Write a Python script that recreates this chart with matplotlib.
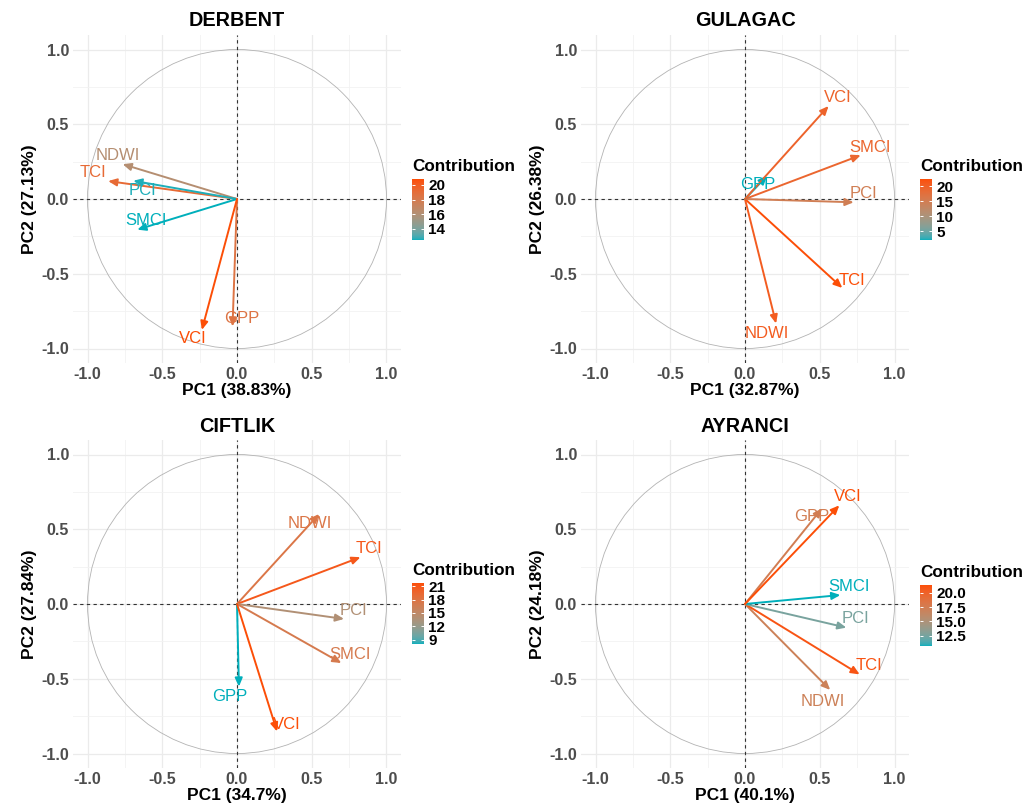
import numpy as np
import matplotlib
matplotlib.use("Agg")
import matplotlib.pyplot as plt
import matplotlib.colors as mcolors
from matplotlib.patches import Circle
from matplotlib.cm import ScalarMappable

plt.rcParams['font.family'] = ['Liberation Sans', 'DejaVu Sans']
plt.rcParams['axes.unicode_minus'] = False

# values (variable coordinates on PC1 / PC2)
stations = ["DERBENT", "GULAGAC", "CIFTLIK", "AYRANCI"]
variables = ["NDWI", "TCI", "PCI", "SMCI", "GPP", "VCI"]
pc1_pct = ["38.83", "32.87", "34.7", "40.1"]
pc2_pct = ["27.13", "26.38", "27.84", "24.18"]

derbent_pc1 = [-0.765, -0.862, -0.694, -0.667, -0.030, -0.235]
derbent_pc2 = [0.233, 0.120, 0.122, -0.205, -0.853, -0.876]
derbent_contrib = [16.2, 19.2, 12.6, 12.5, 18.5, 20.8]

gulagac_pc1 = [0.208, 0.651, 0.727, 0.774, 0.148, 0.559]
gulagac_pc2 = [-0.833, -0.595, -0.022, 0.293, 0.155, 0.622]
gulagac_contrib = [20.7, 22.5, 14.9, 19.3, 2.1, 19.7]

ciftlik_pc1 = [0.550, 0.826, 0.716, 0.698, 0.013, 0.268]
ciftlik_pc2 = [0.602, 0.313, -0.100, -0.395, -0.553, -0.853]
ciftlik_contrib = [17.7, 20.8, 13.9, 17.1, 8.05, 21.7]

ayranci_pc1 = [0.570, 0.767, 0.678, 0.638, 0.515, 0.631]
ayranci_pc2 = [-0.575, -0.471, -0.158, 0.060, 0.640, 0.660]
ayranci_contrib = [17.1, 21.0, 12.6, 10.7, 17.5, 21.4]

legend_ticks = [[14, 16, 18, 20], [5, 10, 15, 20], [9, 12, 15, 18, 21], [12.5, 15, 17.5, 20]]
legend_fmt = ["%d", "%d", "%d", "%.1f"]

pc1_all = [derbent_pc1, gulagac_pc1, ciftlik_pc1, ayranci_pc1]
pc2_all = [derbent_pc2, gulagac_pc2, ciftlik_pc2, ayranci_pc2]
contrib_all = [derbent_contrib, gulagac_contrib, ciftlik_contrib, ayranci_contrib]

# label nudges (data units), layout only
nudges = [
    [(-0.03, 0.06), (-0.10, 0.055), (0.06, -0.065), (0.06, 0.06), (0.065, 0.055), (-0.06, -0.06)],
    [(-0.06, -0.065), (0.065, 0.05), (0.065, 0.06), (0.06, 0.05), (-0.06, -0.06), (0.06, 0.056)],
    [(-0.06, -0.065), (0.06, 0.06), (0.065, 0.055), (0.06, 0.055), (-0.06, -0.068), (0.063, 0.05)],
    [(-0.05, -0.08), (0.06, 0.06), (0.06, 0.06), (0.06, 0.057), (-0.067, -0.056), (0.056, 0.06)],
]


# ggplot-like gradient (interpolated in Lab) from teal to orange
M = np.array([[0.4124, 0.3576, 0.1805], [0.2126, 0.7152, 0.0722], [0.0193, 0.1192, 0.9505]])
WHITE = np.array([0.95047, 1.0, 1.08883])


def to_lab(col):
    rgb = np.array(mcolors.to_rgb(col))
    lin = np.where(rgb <= 0.04045, rgb / 12.92, ((rgb + 0.055) / 1.055) ** 2.4)
    xyz = M @ lin / WHITE
    f = np.where(xyz > 0.008856, np.cbrt(xyz), 7.787 * xyz + 16 / 116)
    return np.array([116 * f[1] - 16, 500 * (f[0] - f[1]), 200 * (f[1] - f[2])])


def from_lab(lab):
    fy = (lab[0] + 16) / 116
    f = np.array([fy + lab[1] / 500, fy, fy - lab[2] / 200])
    xyz = np.where(f ** 3 > 0.008856, f ** 3, (f - 16 / 116) / 7.787) * WHITE
    lin = np.clip(np.linalg.inv(M) @ xyz, 0, 1)
    rgb = np.where(lin <= 0.0031308, 12.92 * lin, 1.055 * lin ** (1 / 2.4) - 0.055)
    return np.clip(rgb, 0, 1)


lab_lo, lab_hi = to_lab("#00AFBB"), to_lab("#FC4E07")
cmap = mcolors.ListedColormap([from_lab(lab_lo + t * (lab_hi - lab_lo)) for t in np.linspace(0, 1, 256)])

W, H = 1033, 807
fig = plt.figure(figsize=(W / 100, H / 100), dpi=100)

origins = [(237, 199), (745, 199), (237, 604), (745, 604)]
cbar_pos = [(412, 179), (920, 179), (412, 583), (920, 585)]
scale = 149.5
half = 1.1 * scale

for i, name in enumerate(stations):
    ox, oy = origins[i]
    ax = fig.add_axes([(ox - half) / W, 1 - (oy + half) / H, 2 * half / W, 2 * half / H])
    ax.set_xlim(-1.1, 1.1)
    ax.set_ylim(-1.1, 1.1)
    for s in ax.spines.values():
        s.set_visible(False)
    ax.set_xticks([-1, -0.5, 0, 0.5, 1])
    ax.set_yticks([-1, -0.5, 0, 0.5, 1])
    ax.set_xticks([-0.75, -0.25, 0.25, 0.75], minor=True)
    ax.set_yticks([-0.75, -0.25, 0.25, 0.75], minor=True)
    ax.set_xticklabels(["-1.0", "-0.5", "0.0", "0.5", "1.0"])
    ax.set_yticklabels(["-1.0", "-0.5", "0.0", "0.5", "1.0"])
    ax.grid(True, which='major', color='#EBEBEB', lw=0.9)
    ax.grid(True, which='minor', color='#F2F2F2', lw=0.6)
    ax.set_axisbelow(True)
    ax.tick_params(which='both', length=0, labelsize=11.5, labelcolor='#4D4D4D', pad=2.5)
    for lb in ax.get_xticklabels() + ax.get_yticklabels():
        lb.set_fontweight('bold')

    ax.add_patch(Circle((0, 0), 1, fill=False, ec='#B3B3B3', lw=0.6, zorder=1))
    ax.axhline(0, color='#333333', lw=0.8, ls=(0, (3, 3)), zorder=1)
    ax.axvline(0, color='#333333', lw=0.8, ls=(0, (3, 3)), zorder=1)

    cvals = contrib_all[i]
    norm = mcolors.Normalize(vmin=min(cvals), vmax=max(cvals))
    for j, var in enumerate(variables):
        x, y = pc1_all[i][j], pc2_all[i][j]
        col = cmap(norm(cvals[j]))
        ax.annotate("", xy=(x, y), xytext=(0, 0),
                    arrowprops=dict(arrowstyle='-|>,head_length=0.5,head_width=0.22',
                                    color=col, lw=1.4, mutation_scale=10,
                                    shrinkA=0, shrinkB=0), zorder=3)
        dx, dy = nudges[i][j]
        ax.text(x + dx, y + dy, var, color=col, fontsize=12, ha='center', va='center', zorder=4)

    ax.set_xlabel("PC1 (%s%%)" % pc1_pct[i], fontsize=12.5, fontweight='bold', labelpad=1)
    ax.set_ylabel("PC2 (%s%%)" % pc2_pct[i], fontsize=12.5, fontweight='bold', labelpad=3)
    fig.text(ox / W, 1 - (oy - 178) / H, name, fontsize=14.3, fontweight='bold',
             ha='center', va='center')

    # colour legend
    bx, by = cbar_pos[i]
    cax = fig.add_axes([bx / W, 1 - (by + 61) / H, 12 / W, 61 / H])
    cb = fig.colorbar(ScalarMappable(norm=norm, cmap=cmap), cax=cax, ticks=legend_ticks[i])
    cb.outline.set_visible(False)
    cb.ax.set_yticklabels([legend_fmt[i] % t for t in legend_ticks[i]])
    cax.tick_params(axis='y', direction='in', length=2.5, width=0.7, color='white',
                    left=True, right=True, labelsize=11, pad=3)
    for lb in cax.get_yticklabels():
        lb.set_fontweight('bold')
    fig.text(bx / W, 1 - (by - 12.5) / H, "Contribution", fontsize=12.3, fontweight='bold',
             ha='left', va='center')

fig.savefig("out.png", dpi=100, facecolor='white')
